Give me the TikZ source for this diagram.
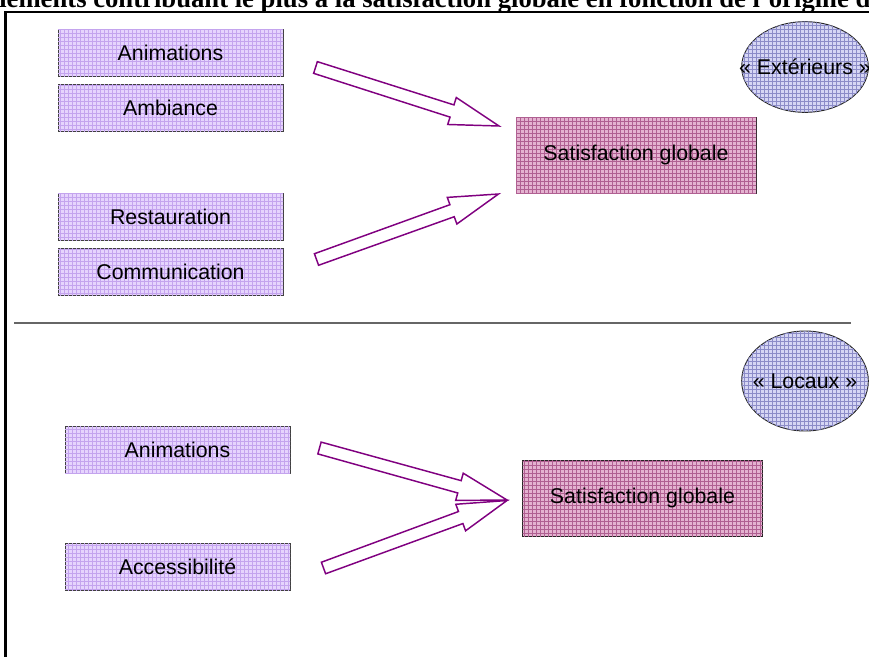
\documentclass[tikz,border=0pt]{standalone}
\usepackage{fontspec}
\setmainfont{Liberation Sans}
\newfontfamily\titlefont{Liberation Serif}
\usetikzlibrary{calc,patterns,shapes.geometric}
\definecolor{boxfill}{RGB}{230,212,253}
\definecolor{boxgrid}{RGB}{196,164,238}
\definecolor{satfill}{RGB}{228,178,208}
\definecolor{satgrid}{RGB}{176,96,146}
\definecolor{ellfill}{RGB}{214,214,244}
\definecolor{ellgrid}{RGB}{140,140,200}
\definecolor{arrowcol}{RGB}{128,0,128}
\tikzset{
  lbl/.style={font=\fontsize{16pt}{19pt}\selectfont, text=black, inner sep=0pt, outer sep=0pt},
  itembox/.style={lbl, rectangle, draw=black!75, line width=0.7pt, fill=boxfill,
    postaction={pattern=grid, pattern color=boxgrid},
    minimum width=168.75pt, minimum height=35.25pt},
  satbox/.style={lbl, rectangle, draw=black!85, line width=0.7pt, fill=satfill,
    postaction={pattern=grid, pattern color=satgrid},
    minimum width=180pt, minimum height=57pt},
  groupell/.style={inner sep=0pt, outer sep=0pt, ellipse, draw=black!85, line width=0.7pt, fill=ellfill,
    postaction={pattern=grid, pattern color=ellgrid},
    minimum width=95pt},
  blockarrow/.style={draw=arrowcol, line width=1.1pt, fill=white, line join=miter},
}
\newcommand{\blockarr}[2]{%
  \coordinate (ba-b) at ($(#2)!37pt!(#1)$);
  \draw[blockarrow] ($(#1)!4.6pt!90:(#2)$) -- ($(ba-b)!4.8pt!90:(#2)$)
    -- ($(ba-b)!10.6pt!90:(#2)$) -- (#2) -- ($(ba-b)!10.6pt!-90:(#2)$)
    -- ($(ba-b)!4.8pt!-90:(#2)$) -- ($(#1)!4.6pt!-90:(#2)$) -- cycle;}
\begin{document}
\begin{tikzpicture}[x=0.75pt,y=-0.75pt]
\useasboundingbox (0,0) rectangle (869,657);
\clip (0,0) rectangle (869,657);
% title (cropped at the top in the reference)
\node[anchor=base west, inner sep=0pt, font=\titlefont\bfseries\fontsize{20pt}{24pt}\selectfont] (title) at (-1,7.5)
  {léments contribuant le plus à la satisfaction globale en fonction de l’origine d};
% frame
\draw[line width=1.6pt] (5.5,680) -- (5.5,12.3) -- (890,12.3);
% separator
\draw[black!60, line width=1.1pt] (14,323) -- (851,323);
% upper half
\node[itembox] (anim1) at (170.5,52.5) {Animations};
\node[itembox] (amb) at (170.5,107.5) {Ambiance};
\node[itembox] (rest) at (170.5,216.5) {Restauration};
\node[itembox] (comm) at (170.5,271.5) {Communication};
\node[satbox] (sat1) at (636,155) {Satisfaction globale};
\node[groupell, minimum height=68pt, label={[lbl]center:« Extérieurs »}] (ext) at (805,67) {};
\coordinate (t1) at (315.5,67.5);
\coordinate (p1) at (499,126);
\coordinate (t2) at (316.5,259.5);
\coordinate (p2) at (498.5,194);
\blockarr{t1}{p1}
\blockarr{t2}{p2}
% lower half
\node[itembox] (anim2) at (177.5,449.5) {Animations};
\node[itembox] (acc) at (177.5,566.5) {Accessibilité};
\node[satbox] (sat2) at (642.5,498) {Satisfaction globale};
\node[groupell, minimum height=75pt, label={[lbl]center:« Locaux »}] (loc) at (805,381) {};
\coordinate (t3) at (319.5,448);
\coordinate (p3) at (507,500);
\coordinate (t4) at (323.5,568);
\coordinate (p4) at (507,500.5);
\blockarr{t3}{p3}
\blockarr{t4}{p4}
\end{tikzpicture}
\end{document}
